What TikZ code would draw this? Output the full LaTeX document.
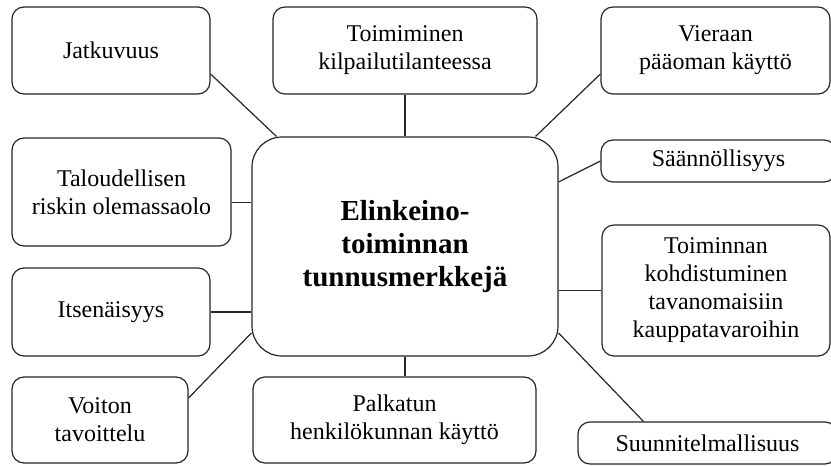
\documentclass[tikz,border=0pt]{standalone}
\usepackage{fontspec}
\setmainfont{Liberation Serif}
\usetikzlibrary{calc}
\tikzset{
  box/.style={draw=black!85, line width=1.2pt, fill=white, rounded corners=12pt,
    align=center, inner sep=2pt, font=\fontsize{24}{28}\selectfont},
  hub/.style={draw=black!85, line width=1.2pt, fill=white, rounded corners=30pt,
    align=center, inner sep=2pt, font=\fontsize{29}{33}\selectfont\bfseries},
  link/.style={draw=black!85, line width=1.2pt}
}
\begin{document}
\begin{tikzpicture}[x=1pt,y=-1pt]
\useasboundingbox (0,0) rectangle (831,466);
% connectors first (behind boxes)
\node[hub, minimum width=306pt, minimum height=219pt] (c) at (405,246.5) {Elinkeino-\\toiminnan\\tunnusmerkkejä};
\node[box, minimum width=198pt, minimum height=87pt] (jat) at (111,50.5) {Jatkuvuus};
\node[box, minimum width=264pt, minimum height=87pt] (toim) at (405,50.5) {Toimiminen\\kilpailutilanteessa};
\node[box, minimum width=229pt, minimum height=87pt] (vier) at (715.5,50.5) {Vieraan\\pääoman käyttö};
\node[box, minimum width=235pt, minimum height=42pt] (saan) at (718.5,161) {Säännöllisyys};
\node[box, minimum width=219pt, minimum height=108pt] (talo) at (121.5,192) {Taloudellisen\\riskin olemassaolo};
\node[box, minimum width=228pt, minimum height=131pt] (toik) at (716,290.5) {Toiminnan\\kohdistuminen\\tavanomaisiin\\kauppatavaroihin};
\node[box, minimum width=198pt, minimum height=88pt] (itse) at (111,312) {Itsenäisyys};
\node[box, minimum width=176pt, minimum height=86pt] (voit) at (100,420) {Voiton\\tavoittelu};
\node[box, minimum width=283pt, minimum height=86pt] (palk) at (394.5,420) {Palkatun\\henkilökunnan käyttö};
\node[box, minimum width=259pt, minimum height=42pt] (suun) at (707.5,443) {Suunnitelmallisuus};
% connectors
\draw[link] ($(jat.east)+(0,23.5)$) -- ($(c.north west)+(25,0)$);
\draw[link] (toim.south) -- (c.north);
\draw[link] ($(vier.west)+(0,23.5)$) -- ($(c.north east)+(-23,0)$);
\draw[link] (saan.west) -- ($(c.east)+(0,-64.5)$);
\draw[link] ($(talo.east)+(0,10.5)$) -- ($(c.west)+(0,-44)$);
\draw[link] (itse.east) -- (c.west |- itse.east);
\draw[link] ($(voit.east)+(0,-22)$) -- ($(c.west)+(0,86.5)$);
\draw[link] (c.south) -- (c.south |- palk.north);
\draw[link] (toik.west) -- (c.east |- toik.west);
\draw[link] ($(c.east)+(0,86.5)$) -- ($(suun.north west)+(66,0)$);
\end{tikzpicture}
\end{document}
